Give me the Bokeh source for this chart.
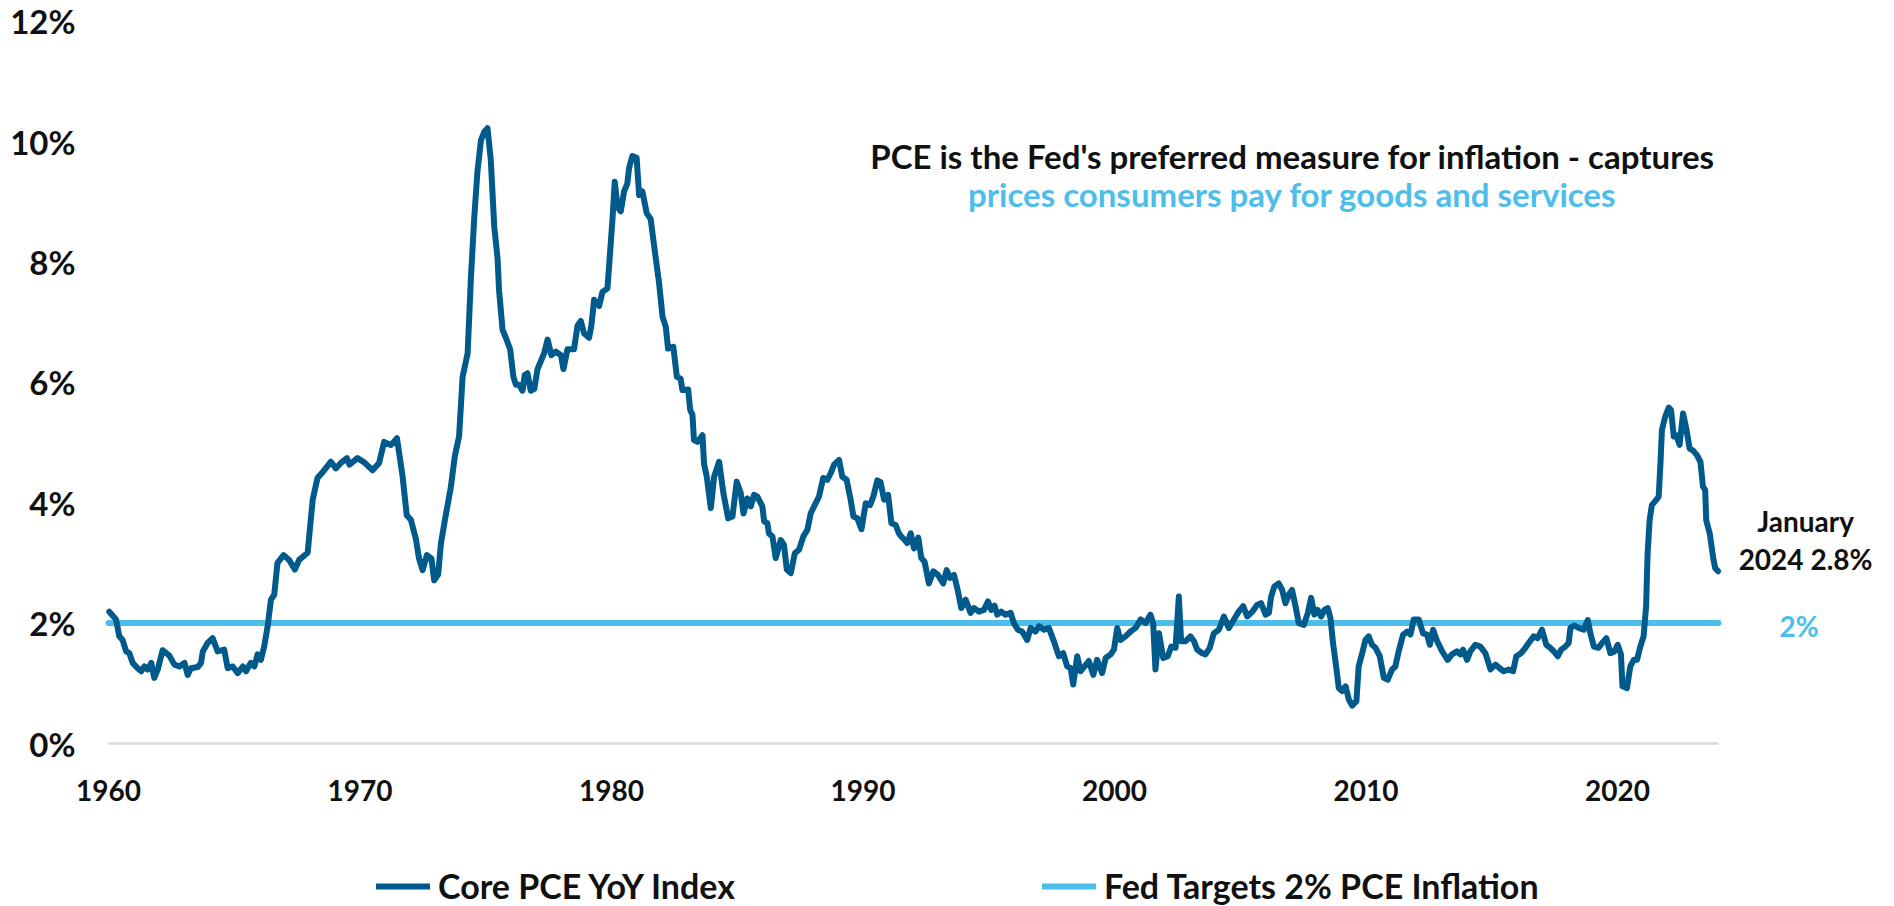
from bokeh.plotting import figure
from bokeh.models import Range1d, Legend, LegendItem
from bokeh.core.properties import value
from bokeh.embed import file_html
from bokeh.resources import INLINE

# ---- data ----
core_years = [
    1960.03, 1960.3, 1960.43, 1960.56, 1960.7, 1960.83, 1960.96, 1961.16, 1961.3, 1961.43,
    1961.56, 1961.7, 1961.82, 1961.96, 1962.15, 1962.42, 1962.62, 1962.82, 1963.02, 1963.15,
    1963.28, 1963.55, 1963.68, 1963.75, 1963.94, 1964.14, 1964.34, 1964.6, 1964.74, 1964.94,
    1965.14, 1965.34, 1965.47, 1965.66, 1965.8, 1965.93, 1966.06, 1966.19, 1966.33, 1966.46,
    1966.59, 1966.72, 1966.96, 1967.18, 1967.41, 1967.58, 1967.92, 1967.98, 1968.12, 1968.31,
    1968.58, 1968.84, 1969.04, 1969.24, 1969.48, 1969.58, 1969.9, 1970.17, 1970.5, 1970.76,
    1970.96, 1971.23, 1971.47, 1971.69, 1971.86, 1972.02, 1972.22, 1972.35, 1972.49, 1972.66,
    1972.84, 1972.95, 1973.11, 1973.22, 1973.41, 1973.61, 1973.77, 1973.94, 1974.08, 1974.28,
    1974.41, 1974.54, 1974.67, 1974.81, 1974.94, 1975.07, 1975.2, 1975.34, 1975.47, 1975.53,
    1975.67, 1975.8, 1975.97, 1976.1, 1976.2, 1976.33, 1976.46, 1976.55, 1976.66, 1976.79,
    1976.93, 1977.06, 1977.19, 1977.32, 1977.46, 1977.61, 1977.79, 1977.99, 1978.09, 1978.25,
    1978.51, 1978.65, 1978.78, 1978.91, 1979.11, 1979.2, 1979.31, 1979.51, 1979.64, 1979.84,
    1979.95, 1980.04, 1980.13, 1980.24, 1980.37, 1980.5, 1980.63, 1980.7, 1980.83, 1981.0,
    1981.1, 1981.23, 1981.4, 1981.56, 1981.7, 1981.89, 1982.03, 1982.16, 1982.25, 1982.46,
    1982.6, 1982.75, 1982.82, 1983.05, 1983.13, 1983.22, 1983.28, 1983.42, 1983.62, 1983.68,
    1983.79, 1983.95, 1984.08, 1984.28, 1984.45, 1984.64, 1984.81, 1984.98, 1985.14, 1985.25,
    1985.4, 1985.54, 1985.67, 1985.8, 1986.0, 1986.07, 1986.2, 1986.26, 1986.4, 1986.53,
    1986.73, 1986.86, 1986.97, 1987.13, 1987.29, 1987.46, 1987.63, 1987.79, 1987.92, 1988.08,
    1988.25, 1988.42, 1988.58, 1988.72, 1988.85, 1989.05, 1989.18, 1989.35, 1989.51, 1989.62,
    1989.78, 1989.94, 1990.11, 1990.28, 1990.41, 1990.57, 1990.7, 1990.84, 1991.0, 1991.13,
    1991.3, 1991.43, 1991.52, 1991.66, 1991.76, 1991.9, 1992.03, 1992.2, 1992.32, 1992.45,
    1992.62, 1992.8, 1992.98, 1993.19, 1993.33, 1993.46, 1993.62, 1993.75, 1993.91, 1994.08,
    1994.28, 1994.41, 1994.61, 1994.81, 1994.97, 1995.1, 1995.23, 1995.34, 1995.5, 1995.67,
    1995.87, 1996.0, 1996.16, 1996.33, 1996.53, 1996.67, 1996.86, 1997.0, 1997.2, 1997.39,
    1997.59, 1997.79, 1997.96, 1998.12, 1998.26, 1998.36, 1998.52, 1998.65, 1998.81, 1998.98,
    1999.16, 1999.31, 1999.51, 1999.65, 1999.85, 1999.98, 2000.11, 2000.24, 2000.44, 2000.64,
    2000.84, 2001.04, 2001.24, 2001.43, 2001.54, 2001.63, 2001.77, 2001.94, 2002.12, 2002.26,
    2002.43, 2002.56, 2002.65, 2002.83, 2003.02, 2003.16, 2003.29, 2003.49, 2003.62, 2003.79,
    2003.95, 2004.15, 2004.35, 2004.55, 2004.75, 2004.94, 2005.12, 2005.28, 2005.48, 2005.67,
    2005.83, 2006.01, 2006.14, 2006.23, 2006.36, 2006.53, 2006.67, 2006.8, 2006.93, 2007.06,
    2007.2, 2007.33, 2007.53, 2007.69, 2007.82, 2007.95, 2008.08, 2008.22, 2008.35, 2008.48,
    2008.59, 2008.69, 2008.83, 2008.92, 2009.05, 2009.19, 2009.32, 2009.45, 2009.62, 2009.71,
    2009.85, 2009.98, 2010.11, 2010.24, 2010.38, 2010.55, 2010.71, 2010.87, 2011.04, 2011.17,
    2011.3, 2011.48, 2011.64, 2011.77, 2011.9, 2012.1, 2012.27, 2012.43, 2012.54, 2012.67,
    2012.83, 2013.03, 2013.25, 2013.42, 2013.62, 2013.76, 2013.86, 2014.02, 2014.15, 2014.35,
    2014.55, 2014.75, 2014.95, 2015.15, 2015.32, 2015.48, 2015.68, 2015.85, 2015.98, 2016.17,
    2016.34, 2016.47, 2016.67, 2016.83, 2017.0, 2017.17, 2017.33, 2017.47, 2017.63, 2017.76,
    2017.93, 2018.06, 2018.13, 2018.29, 2018.46, 2018.66, 2018.82, 2018.92, 2019.06, 2019.25,
    2019.39, 2019.56, 2019.72, 2019.88, 2020.01, 2020.14, 2020.2, 2020.38, 2020.51, 2020.65,
    2020.78, 2020.91, 2021.04, 2021.14, 2021.2, 2021.28, 2021.37, 2021.55, 2021.64, 2021.71,
    2021.77, 2021.9, 2022.04, 2022.13, 2022.24, 2022.34, 2022.47, 2022.61, 2022.74, 2022.87,
    2023.0, 2023.16, 2023.3, 2023.4, 2023.49, 2023.53, 2023.67, 2023.82, 2023.89, 2024.0,
]
core_pce = [
    2.19, 2.06, 1.78, 1.72, 1.53, 1.50, 1.34, 1.25, 1.20, 1.28,
    1.23, 1.34, 1.09, 1.23, 1.55, 1.46, 1.31, 1.28, 1.34, 1.14,
    1.25, 1.27, 1.34, 1.53, 1.67, 1.75, 1.53, 1.56, 1.25, 1.28,
    1.17, 1.28, 1.20, 1.34, 1.28, 1.48, 1.39, 1.61, 1.95, 2.39,
    2.47, 3.00, 3.13, 3.05, 2.89, 3.05, 3.17, 3.44, 4.05, 4.41,
    4.54, 4.68, 4.57, 4.66, 4.74, 4.63, 4.74, 4.67, 4.54, 4.66,
    5.01, 4.96, 5.07, 4.45, 3.79, 3.72, 3.40, 3.07, 2.88, 3.13,
    3.07, 2.71, 2.81, 3.33, 3.79, 4.25, 4.77, 5.10, 6.09, 6.48,
    7.73, 8.71, 9.50, 10.02, 10.16, 10.22, 9.70, 8.58, 8.06, 7.53,
    6.87, 6.74, 6.55, 6.09, 5.96, 5.96, 5.86, 6.12, 6.15, 5.86,
    5.89, 6.22, 6.35, 6.48, 6.71, 6.45, 6.51, 6.45, 6.22, 6.55,
    6.55, 6.94, 7.02, 6.81, 6.74, 6.94, 7.37, 7.27, 7.50, 7.56,
    8.19, 8.71, 9.33, 8.91, 8.84, 9.17, 9.30, 9.56, 9.76, 9.73,
    9.11, 9.17, 8.81, 8.71, 8.25, 7.66, 7.09, 6.92, 6.56, 6.59,
    6.09, 6.06, 5.87, 5.88, 5.54, 5.46, 5.04, 5.01, 5.12, 4.65,
    4.43, 3.91, 4.43, 4.68, 4.16, 3.74, 3.77, 4.35, 4.16, 3.82,
    4.07, 3.94, 4.13, 4.10, 3.94, 3.69, 3.66, 3.49, 3.44, 3.08,
    3.38, 3.30, 2.89, 2.83, 3.16, 3.22, 3.44, 3.55, 3.82, 3.96,
    4.10, 4.41, 4.38, 4.49, 4.63, 4.71, 4.43, 4.38, 4.05, 3.77,
    3.74, 3.56, 3.99, 3.96, 4.10, 4.37, 4.34, 4.05, 4.13, 3.66,
    3.63, 3.49, 3.44, 3.38, 3.33, 3.49, 3.24, 3.42, 3.08, 3.02,
    2.66, 2.86, 2.80, 2.66, 2.88, 2.75, 2.80, 2.58, 2.25, 2.39,
    2.17, 2.25, 2.19, 2.22, 2.36, 2.22, 2.29, 2.14, 2.19, 2.14,
    2.17, 2.00, 1.89, 1.86, 1.72, 1.92, 1.86, 1.95, 1.89, 1.92,
    1.70, 1.45, 1.50, 1.28, 1.25, 0.98, 1.45, 1.20, 1.28, 1.37,
    1.14, 1.39, 1.17, 1.42, 1.48, 1.56, 1.92, 1.72, 1.78, 1.86,
    1.92, 2.06, 2.00, 2.14, 2.00, 1.23, 1.83, 1.42, 1.45, 1.61,
    1.59, 2.44, 1.70, 1.70, 1.78, 1.70, 1.56, 1.50, 1.48, 1.59,
    1.83, 1.89, 2.11, 1.92, 2.06, 2.19, 2.28, 2.11, 2.19, 2.30,
    2.33, 2.14, 2.17, 2.44, 2.61, 2.66, 2.55, 2.33, 2.47, 2.55,
    2.28, 2.00, 1.97, 2.17, 2.42, 2.14, 2.22, 2.11, 2.22, 2.25,
    2.08, 1.67, 1.23, 0.92, 0.87, 0.95, 0.73, 0.63, 0.70, 1.28,
    1.50, 1.72, 1.78, 1.64, 1.59, 1.45, 1.09, 1.06, 1.23, 1.28,
    1.53, 1.81, 1.86, 1.81, 2.06, 2.06, 1.83, 1.81, 1.64, 1.89,
    1.70, 1.53, 1.39, 1.48, 1.53, 1.48, 1.56, 1.39, 1.53, 1.64,
    1.61, 1.50, 1.23, 1.31, 1.25, 1.20, 1.23, 1.20, 1.45, 1.50,
    1.59, 1.67, 1.78, 1.75, 1.89, 1.64, 1.59, 1.53, 1.45, 1.56,
    1.61, 1.67, 1.92, 1.96, 1.92, 1.89, 2.05, 1.84, 1.61, 1.59,
    1.67, 1.75, 1.50, 1.53, 1.64, 1.48, 0.95, 0.92, 1.28, 1.39,
    1.39, 1.61, 1.78, 2.28, 3.16, 3.71, 3.96, 4.05, 4.10, 4.65,
    5.21, 5.43, 5.58, 5.54, 5.10, 5.12, 4.96, 5.48, 5.23, 4.90,
    4.87, 4.79, 4.68, 4.27, 4.21, 3.71, 3.49, 3.05, 2.91, 2.86,
]
fed_years = [1960.0, 2024.02]
fed_target = [2.0, 2.0]
baseline_years = [1960.0, 2024.02]
baseline_vals = [0.0, 0.0]

x_ticks = [1960, 1970, 1980, 1990, 2000, 2010, 2020]
x_labels = ["1960", "1970", "1980", "1990", "2000", "2010", "2020"]
y_ticks = [0, 2, 4, 6, 8, 10, 12]
y_labels = ["0%", "2%", "4%", "6%", "8%", "10%", "12%"]

series_names = ["Core PCE YoY Index", "Fed Targets 2% PCE Inflation"]
title_lines = ["PCE is the Fed's preferred measure for inflation - captures",
               "prices consumers pay for goods and services"]
latest_lines = ["January", "2024 2.8%"]
target_label = "2%"

DARK = "#005A8C"
LIGHT = "#4DBEEA"
INK = "#111111"
FONT = "Lato"

# The frame fills the whole canvas (Bokeh's page template has no body margin):
# 1960 at x=108 px with 25.149 px per year; 0% at y=743 px with 60.2 px per percent.
p = figure(width=1894, height=906, output_backend="svg", toolbar_location=None,
           x_range=Range1d(1955.7056, 2031.017), y_range=Range1d(-2.7076, 12.3422),
           x_axis_location=None, y_axis_location=None,
           min_border_left=0, min_border_right=0, min_border_top=0,
           min_border_bottom=0)
p.outline_line_color = None
p.background_fill_color = "white"
p.border_fill_color = "white"
p.xgrid.visible = False
p.ygrid.visible = False

# zero baseline
p.line(baseline_years, baseline_vals, line_color="#d9d9d9", line_width=2.5)

# tick labels placed through the scales
p.text(x=[x_ticks[0]] * len(y_ticks), y=y_ticks, text=y_labels, text_align="right",
       text_baseline="middle", x_offset=-33, text_font=value(FONT),
       text_font_style="bold", text_font_size="33px", text_color=INK)
p.text(x=x_ticks, y=[y_ticks[0]] * len(x_ticks), text=x_labels, text_align="center",
       text_baseline="middle", y_offset=47, text_font=value(FONT),
       text_font_style="bold", text_font_size="28px", text_color=INK)

fed_r = p.line(fed_years, fed_target, line_color=LIGHT, line_width=6, line_cap="round")
core_r = p.line(core_years, core_pce, line_color=DARK, line_width=6,
                line_join="round", line_cap="round")


def make_legend(name, r, loc):
    lg = Legend(items=[LegendItem(label=name, renderers=[r])], location=loc,
                orientation="horizontal", padding=0, margin=0, spacing=0,
                glyph_width=54, glyph_height=40, label_height=40, label_standoff=8,
                border_line_color=None, background_fill_alpha=0,
                label_text_font=FONT, label_text_font_style="bold",
                label_text_font_size="34px", label_text_color=INK,
                label_text_baseline="middle")
    p.add_layout(lg)


make_legend(series_names[0], core_r, (376, 0))
make_legend(series_names[1], fed_r, (1042, 0))

# annotation texts (positions in data units: years, percent; alphabetic baselines)
p.text(x=[2007.08, 2007.08], y=[9.767, 9.120], text=title_lines, text_align="center",
       text_baseline="alphabetic", text_font=value(FONT), text_font_style="bold",
       text_font_size="33px", text_color=[INK, LIGHT])
p.text(x=[2027.48, 2027.48], y=[3.704, 3.073], text=latest_lines, text_align="center",
       text_baseline="alphabetic", text_font=value(FONT), text_font_style="bold",
       text_font_size="28px", text_color=INK)
p.text(x=[2027.22], y=[1.960], text=[target_label], text_align="center",
       text_baseline="alphabetic", text_font=value(FONT), text_font_style="bold",
       text_font_size="28px", text_color=LIGHT)

open("out.html", "w").write(file_html(p, INLINE))
